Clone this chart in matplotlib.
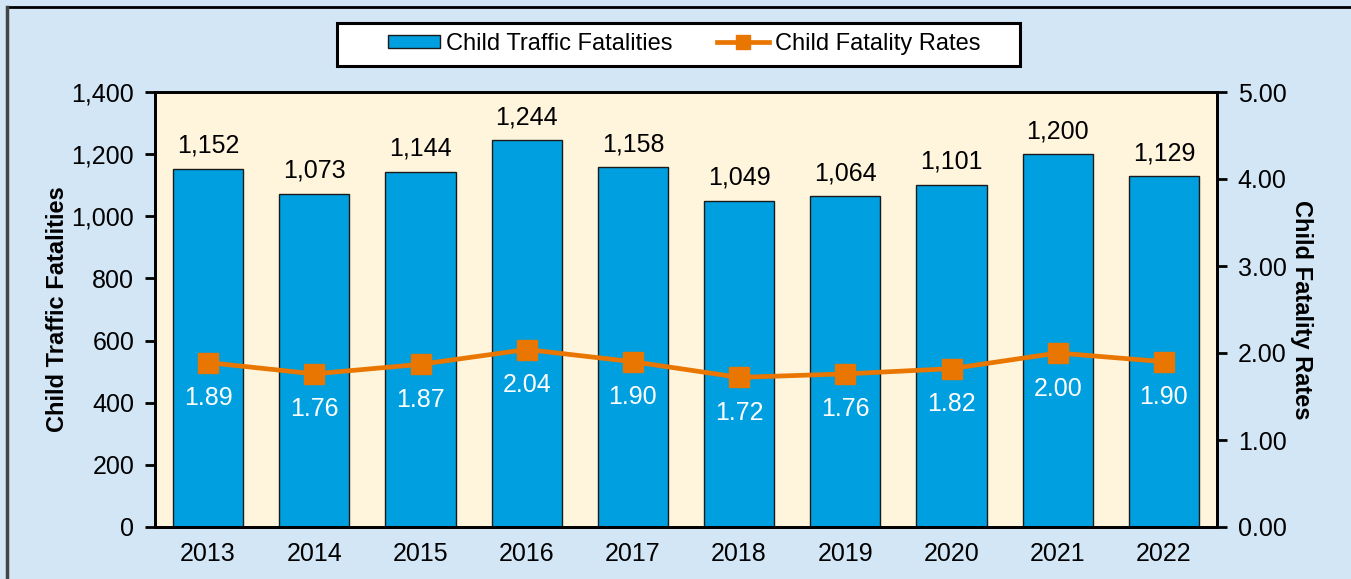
import numpy as np
import matplotlib
matplotlib.use("Agg")
import matplotlib.pyplot as plt
from matplotlib.lines import Line2D

plt.rcParams["font.family"] = ["Liberation Sans", "DejaVu Sans"]

years = ["2013", "2014", "2015", "2016", "2017", "2018", "2019", "2020", "2021", "2022"]
fatalities = [1152, 1073, 1144, 1244, 1158, 1049, 1064, 1101, 1200, 1129]
rates = [1.89, 1.76, 1.87, 2.04, 1.90, 1.72, 1.76, 1.82, 2.00, 1.90]

BG, PLOT, BAR, ORANGE = "#d3e6f6", "#fff5dc", "#009fdf", "#e97600"
FS = 18

fig = plt.figure(figsize=(13.51, 5.79), dpi=100, facecolor=BG)
ax = fig.add_axes([155 / 1351, 1 - 527 / 579, 1062 / 1351, 435 / 579])
ax.set_facecolor(PLOT)
x = np.arange(len(years))

ax.bar(x, fatalities, width=0.66, color=BAR, edgecolor="#1a1a1a", lw=1.0, zorder=2)
for xi, v in zip(x, fatalities):
    ax.annotate(f"{v:,}", (xi, v), xytext=(0, 8), textcoords="offset points",
                ha="center", va="bottom", fontsize=FS)
ax.set_xlim(-0.5, len(years) - 0.5)
ax.set_ylim(0, 1400)
ax.set_yticks(np.arange(0, 1401, 200))
ax.set_yticklabels([f"{t:,}" for t in range(0, 1401, 200)])
ax.set_xticks(x)
ax.set_xticklabels(years)
ax.tick_params(axis="x", length=0, labelsize=FS, pad=11)
ax.tick_params(axis="y", length=7, width=2, labelsize=FS, pad=8)
ax.set_ylabel("Child Traffic Fatalities", fontsize=17, fontweight="bold", va="center")
ax.yaxis.set_label_coords(-0.092, 0.5)
for s in ax.spines.values():
    s.set_linewidth(2)

ax2 = ax.twinx()
ax2.plot(x, rates, color=ORANGE, lw=3.4, marker="s", ms=14, zorder=3)
for xi, r in zip(x, rates):
    ax2.annotate(f"{r:.2f}", (xi, r), xytext=(0, -17), textcoords="offset points",
                 ha="center", va="top", fontsize=FS, color="white")
ax2.set_ylim(0, 5)
ax2.set_yticks(np.arange(0, 5.01, 1))
ax2.set_yticklabels([f"{t:.2f}" for t in range(6)])
ax2.tick_params(axis="y", length=7, width=2, labelsize=FS, pad=8)
ax2.set_ylabel("Child Fatality Rates", fontsize=17, fontweight="bold", rotation=270,
               va="center")
ax2.yaxis.set_label_coords(1.08, 0.5)
for s in ax2.spines.values():
    s.set_linewidth(2)

# legend box drawn by hand so its padding matches
fig.add_artist(plt.Rectangle((337 / 1351, 1 - 66 / 579), 683 / 1351, 43 / 579,
                             transform=fig.transFigure, fc="white", ec="black", lw=2.2))
handles = [plt.Rectangle((0, 0), 1, 1, fc=BAR, ec="#1a1a1a", lw=1.0),
           Line2D([], [], color=ORANGE, lw=3.4, marker="s", ms=10)]
fig.legend(handles, ["Child Traffic Fatalities", "Child Fatality Rates"],
           loc="center", bbox_to_anchor=(684 / 1351, 1 - 44 / 579), ncol=2,
           fontsize=17, frameon=False, handlelength=2.2, handleheight=0.5,
           handletextpad=0.25, columnspacing=1.9, borderaxespad=0)

# outer border
fig.add_artist(Line2D([7 / 1351, 1], [1 - 7 / 579] * 2, color="black", lw=2,
                      transform=fig.transFigure))
fig.add_artist(Line2D([7 / 1351] * 2, [0, 1 - 7 / 579], color="#444444", lw=2.5,
                      transform=fig.transFigure))

fig.savefig("out.png", dpi=100, facecolor=BG)
